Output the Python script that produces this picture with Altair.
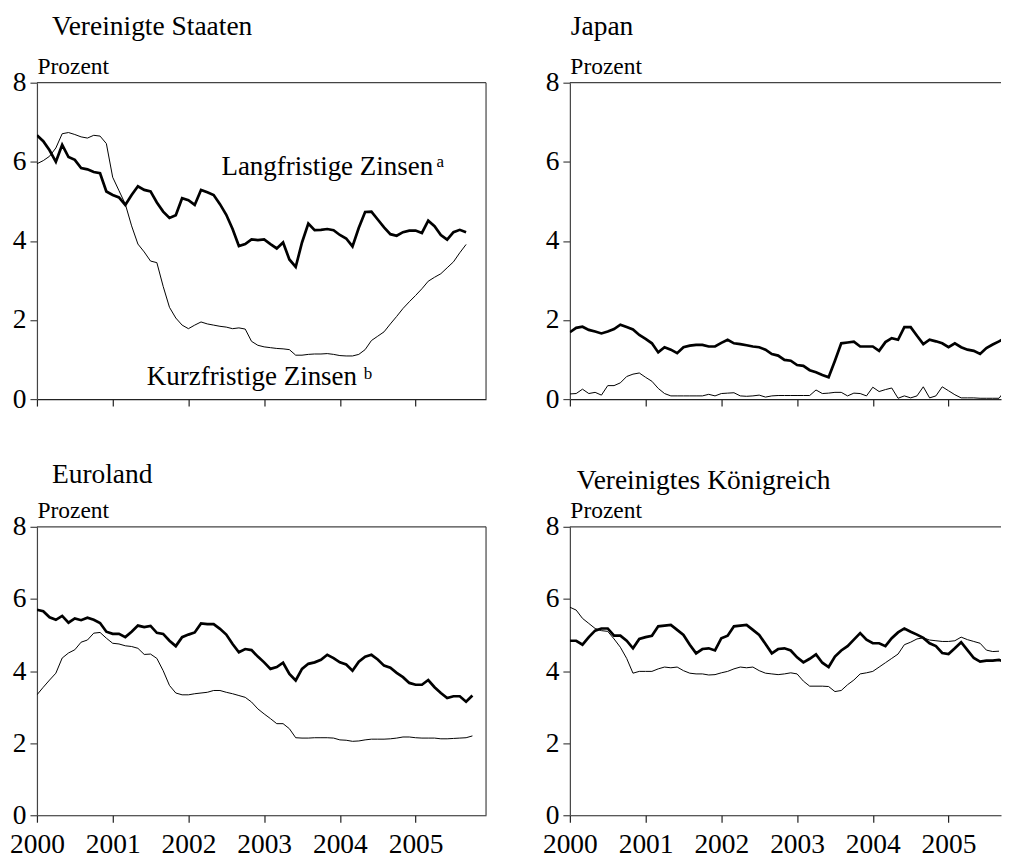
import altair as alt
import pandas as pd

FONT = "Liberation Serif"
YEARS = [2000, 2001, 2002, 2003, 2004, 2005]
Y_TICKS = [0, 2, 4, 6, 8]
LONG = "Langfristige Zinsen"
SHORT = "Kurzfristige Zinsen"

# Monthly values from January 2000 (percent)
us_long = [6.67, 6.52, 6.29, 6.00, 6.43, 6.12, 6.05, 5.84, 5.81, 5.74, 5.71, 5.25,
           5.16, 5.10, 4.91, 5.16, 5.38, 5.29, 5.25, 4.97, 4.74, 4.58, 4.65, 5.08,
           5.03, 4.91, 5.29, 5.23, 5.16, 4.93, 4.66, 4.30, 3.87, 3.92, 4.04, 4.02,
           4.04, 3.92, 3.81, 3.96, 3.53, 3.34, 3.96, 4.44, 4.27, 4.28, 4.30, 4.27,
           4.15, 4.06, 3.86, 4.33, 4.73, 4.74, 4.54, 4.34, 4.17, 4.13, 4.22, 4.26,
           4.26, 4.20, 4.51, 4.37, 4.15, 4.03, 4.22, 4.28, 4.22]
us_short = [5.95, 6.03, 6.14, 6.35, 6.71, 6.74, 6.69, 6.63, 6.60, 6.67, 6.65, 6.46,
            5.61, 5.27, 4.93, 4.38, 3.92, 3.72, 3.49, 3.45, 2.85, 2.32, 2.05, 1.87,
            1.78, 1.87, 1.95, 1.90, 1.87, 1.84, 1.82, 1.78, 1.80, 1.77, 1.46, 1.36,
            1.32, 1.30, 1.28, 1.27, 1.25, 1.11, 1.11, 1.13, 1.14, 1.14, 1.15, 1.13,
            1.10, 1.09, 1.09, 1.13, 1.25, 1.48, 1.59, 1.70, 1.90, 2.09, 2.29, 2.46,
            2.62, 2.79, 2.98, 3.08, 3.17, 3.32, 3.47, 3.70, 3.91]

jp_long = [1.69, 1.80, 1.83, 1.75, 1.71, 1.66, 1.71, 1.77, 1.88, 1.82, 1.76, 1.62,
           1.52, 1.41, 1.18, 1.31, 1.25, 1.16, 1.31, 1.35, 1.37, 1.37, 1.33, 1.33,
           1.42, 1.50, 1.41, 1.39, 1.36, 1.33, 1.31, 1.25, 1.14, 1.10, 0.99, 0.97,
           0.86, 0.84, 0.73, 0.68, 0.61, 0.55, 0.97, 1.41, 1.43, 1.45, 1.33, 1.33,
           1.33, 1.22, 1.44, 1.54, 1.50, 1.82, 1.82, 1.60, 1.39, 1.50, 1.46, 1.41,
           1.31, 1.41, 1.31, 1.25, 1.22, 1.14, 1.29, 1.38, 1.46, 1.54]
jp_short = [0.13, 0.14, 0.25, 0.14, 0.17, 0.10, 0.34, 0.34, 0.41, 0.57, 0.63, 0.66,
            0.55, 0.45, 0.27, 0.14, 0.08, 0.08, 0.08, 0.08, 0.08, 0.08, 0.12, 0.08,
            0.14, 0.15, 0.16, 0.08, 0.07, 0.08, 0.10, 0.05, 0.08, 0.09, 0.09, 0.09,
            0.09, 0.09, 0.09, 0.23, 0.14, 0.15, 0.17, 0.17, 0.08, 0.15, 0.14, 0.08,
            0.30, 0.19, 0.24, 0.28, 0.02, 0.08, 0.03, 0.08, 0.31, 0.03, 0.08, 0.31,
            0.21, 0.11, 0.03, 0.03, 0.03, 0.02, 0.02, 0.02, 0.02, 0.23]

eu_long = [5.70, 5.66, 5.49, 5.42, 5.53, 5.34, 5.46, 5.41, 5.48, 5.42, 5.33, 5.09,
           5.03, 5.03, 4.94, 5.09, 5.26, 5.22, 5.25, 5.06, 5.03, 4.84, 4.69, 4.94,
           5.01, 5.07, 5.32, 5.30, 5.30, 5.17, 5.01, 4.75, 4.52, 4.61, 4.58, 4.40,
           4.24, 4.06, 4.11, 4.23, 3.92, 3.74, 4.06, 4.20, 4.24, 4.31, 4.45, 4.36,
           4.24, 4.18, 4.01, 4.26, 4.40, 4.45, 4.32, 4.15, 4.09, 3.95, 3.83, 3.67,
           3.62, 3.62, 3.75, 3.55, 3.39, 3.25, 3.30, 3.30, 3.15, 3.32]
eu_short = [3.34, 3.55, 3.75, 3.94, 4.36, 4.50, 4.59, 4.80, 4.86, 5.05, 5.07, 4.91,
            4.77, 4.75, 4.70, 4.68, 4.63, 4.46, 4.47, 4.35, 4.01, 3.60, 3.39, 3.34,
            3.34, 3.37, 3.39, 3.41, 3.46, 3.46, 3.41, 3.37, 3.32, 3.27, 3.14, 2.95,
            2.81, 2.68, 2.54, 2.54, 2.40, 2.15, 2.14, 2.14, 2.15, 2.15, 2.15, 2.14,
            2.09, 2.08, 2.05, 2.06, 2.09, 2.11, 2.11, 2.11, 2.12, 2.14, 2.17, 2.17,
            2.15, 2.14, 2.14, 2.14, 2.12, 2.12, 2.13, 2.14, 2.15, 2.20]

uk_long = [4.84, 4.84, 4.73, 4.94, 5.12, 5.18, 5.18, 4.98, 4.98, 4.84, 4.63, 4.89,
           4.94, 4.98, 5.24, 5.26, 5.28, 5.14, 5.00, 4.73, 4.49, 4.61, 4.63, 4.57,
           4.91, 4.98, 5.24, 5.26, 5.28, 5.14, 5.00, 4.75, 4.49, 4.61, 4.63, 4.57,
           4.38, 4.24, 4.34, 4.46, 4.23, 4.11, 4.40, 4.57, 4.69, 4.87, 5.05, 4.87,
           4.77, 4.77, 4.69, 4.91, 5.07, 5.18, 5.09, 5.01, 4.92, 4.77, 4.69, 4.50,
           4.47, 4.63, 4.80, 4.58, 4.36, 4.26, 4.29, 4.29, 4.31, 4.24]
uk_short = [5.77, 5.69, 5.46, 5.32, 5.18, 5.12, 5.10, 4.89, 4.66, 4.35, 3.94, 3.99,
            3.99, 3.99, 4.06, 4.11, 4.09, 4.11, 4.01, 3.94, 3.92, 3.92, 3.89, 3.90,
            3.95, 3.99, 4.06, 4.11, 4.09, 4.11, 4.01, 3.94, 3.92, 3.90, 3.92, 3.95,
            3.92, 3.72, 3.58, 3.58, 3.58, 3.57, 3.43, 3.46, 3.62, 3.75, 3.92, 3.95,
            3.99, 4.11, 4.23, 4.35, 4.47, 4.73, 4.80, 4.89, 4.92, 4.86, 4.84, 4.82,
            4.82, 4.84, 4.94, 4.87, 4.82, 4.77, 4.58, 4.54, 4.55]

# Annotation texts (US panel) with their anchor in data units
label_texts = [LONG, SHORT]
label_years = [2002.436, 2001.451]
label_values = [5.67, 0.354]
sup_texts = ["a", "b"]
sup_years = [2005.277, 2004.314]
sup_values = [5.88, 0.505]

LEFT_W = 450
RIGHT_W = 432
LEFT_END = 2005.93
RIGHT_END = 2000 + RIGHT_W * (LEFT_END - 2000) / LEFT_W
AXIS_GREY = "#444444"


def series_frame(long_vals, short_vals):
    rows = []
    for name, vals in ((LONG, long_vals), (SHORT, short_vals)):
        for i, v in enumerate(vals):
            rows.append({"Jahr": 2000 + i / 12, "Zins": v, "Reihe": name})
    return pd.DataFrame(rows)


def panel(title, long_vals, short_vals, width, height, x_end, bottom_row,
          title_dx, title_offset, right_border, annotate=False):
    df = series_frame(long_vals, short_vals)
    x_enc = alt.X(
        "Jahr:Q",
        scale=alt.Scale(domain=[2000, x_end], nice=False, zero=False),
        axis=alt.Axis(values=YEARS, format="d", labels=bottom_row, title=None,
                      grid=False, tickSize=7, labelPadding=8, labelFontSize=27.5,
                      labelFlush=False, labelOverlap=False,
                      domainColor="#222222", tickColor="#222222"),
    )
    y_enc = alt.Y(
        "Zins:Q",
        scale=alt.Scale(domain=[0, 8], nice=False, zero=True),
        axis=alt.Axis(values=Y_TICKS, title="Prozent", grid=False, tickSize=7,
                      labelPadding=4, labelFontSize=27.5, labelOverlap=False,
                      labelFlush=False,
                      titleAngle=0, titleAlign="left", titleBaseline="alphabetic",
                      titleX=0, titleY=-9, titleFontSize=23.5,
                      titleFontWeight="normal"),
    )
    lines = alt.Chart(df).mark_line(color="black", strokeCap="butt", clip=True).encode(
        x=x_enc,
        y=y_enc,
        detail="Reihe:N",
        strokeWidth=alt.StrokeWidth(
            "Reihe:N",
            scale=alt.Scale(domain=[LONG, SHORT], range=[2.7, 1.0]),
            legend=None,
        ),
    )
    top_rule = alt.Chart(pd.DataFrame({"Zins": [8]})).mark_rule(
        color=AXIS_GREY, strokeWidth=1.2).encode(y=y_enc)
    layers = [lines, top_rule]
    if right_border:
        right_rule = alt.Chart(pd.DataFrame({"Jahr": [x_end]})).mark_rule(
            color=AXIS_GREY, strokeWidth=1.2).encode(x=x_enc)
        layers.append(right_rule)
    if annotate:
        lab_df = pd.DataFrame({"Jahr": label_years, "Zins": label_values,
                               "Text": label_texts})
        sup_df = pd.DataFrame({"Jahr": sup_years, "Zins": sup_values,
                               "Text": sup_texts})
        labels = alt.Chart(lab_df).mark_text(
            align="left", baseline="alphabetic", fontSize=27, font=FONT,
            color="black").encode(x=x_enc, y=y_enc, text="Text:N")
        sups = alt.Chart(sup_df).mark_text(
            align="left", baseline="alphabetic", fontSize=17, font=FONT,
            color="black").encode(x=x_enc, y=y_enc, text="Text:N")
        layers += [labels, sups]
    return alt.layer(*layers).properties(
        width=width,
        height=height,
        title=alt.TitleParams(
            title, anchor="start", frame="group", dx=title_dx,
            offset=title_offset, fontSize=27.5, font=FONT,
            fontWeight="normal", baseline="alphabetic", color="black"),
    )


us = panel("Vereinigte Staaten", us_long, us_short, LEFT_W, 317, LEFT_END, False,
           15, -8, True, annotate=True)
jp = panel("Japan", jp_long, jp_short, RIGHT_W, 317, RIGHT_END, False,
           1, -8, False)
eu = panel("Euroland", eu_long, eu_short, LEFT_W, 289, LEFT_END, True,
           15, -12, True)
uk = panel("Vereinigtes Königreich", uk_long, uk_short, RIGHT_W, 289, RIGHT_END, True,
           7, -18, False)

chart = alt.concat(
    us, jp, eu, uk, columns=2, spacing={"row": 128, "column": 84}, bounds="flush"
).properties(
    padding={"left": 1, "top": 4, "right": 0, "bottom": 0}
).configure(font=FONT).configure_view(stroke=None).configure_axis(
    labelFont=FONT, titleFont=FONT, labelColor="black", titleColor="black",
    domainColor=AXIS_GREY, tickColor=AXIS_GREY, domainWidth=1.2, tickWidth=1.2,
    grid=False,
)

chart.save("out.html", embed_options={"renderer": "svg", "actions": False})
